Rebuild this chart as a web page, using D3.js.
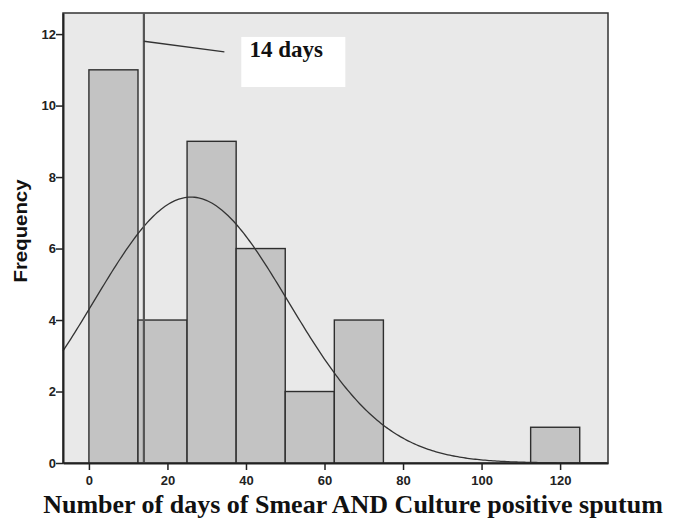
<!DOCTYPE html>
<html>
<head>
<meta charset="utf-8">
<script src="https://cdn.jsdelivr.net/npm/d3@7/dist/d3.min.js"></script>
<style>
  body { margin: 0; background: #fff; }
  svg { display: block; }
</style>
</head>
<body>
<div id="chart"></div>
<script>
// histogram bins (days) and counts
const binStarts = [0, 12.5, 25, 37.5, 50, 62.5, 112.5];
const binWidth = 12.5;
const counts = [11, 4, 9, 6, 2, 4, 1];
const xTicks = [0, 20, 40, 60, 80, 100, 120];
const yTicks = [0, 2, 4, 6, 8, 10, 12];
// fitted normal curve parameters
const curveMean = 26;
const curveSd = 24.8;
const cutoffDay = 14;

const width = 686, height = 522;
const margin = { top: 13, right: 78, bottom: 59, left: 63 };

const svg = d3.select('#chart').append('svg')
    .attr('width', width)
    .attr('height', height);

const x = d3.scaleLinear()
    .domain([-6.6, 132.2])
    .range([margin.left, width - margin.right]);
const y = d3.scaleLinear()
    .domain([0, 12.59])
    .range([height - margin.bottom, margin.top]);

// plot background
svg.append('rect')
    .attr('x', margin.left)
    .attr('y', margin.top)
    .attr('width', width - margin.left - margin.right)
    .attr('height', height - margin.top - margin.bottom)
    .attr('fill', '#e9e9e9')
    .attr('stroke', '#333')
    .attr('stroke-width', 1.5);

// bars
svg.selectAll('.bar')
    .data(binStarts.map((s, i) => ({ s, c: counts[i] })))
    .enter()
    .append('rect')
    .classed('bar', true)
    .attr('x', d => x(d.s))
    .attr('y', d => y(d.c))
    .attr('width', d => x(d.s + binWidth) - x(d.s))
    .attr('height', d => y(0) - y(d.c))
    .attr('fill', '#c3c3c3')
    .attr('stroke', '#2e2e2e')
    .attr('stroke-width', 1.4);

// normal curve
const total = d3.sum(counts);
const curvePts = d3.range(-6.6, 132.2, 0.5).map(v => {
    const z = (v - curveMean) / curveSd;
    return [v, total * binWidth * Math.exp(-0.5 * z * z) / (curveSd * Math.sqrt(2 * Math.PI))];
});
svg.append('path')
    .datum(curvePts)
    .attr('fill', 'none')
    .attr('stroke', '#333')
    .attr('stroke-width', 1.3)
    .attr('d', d3.line().x(d => x(d[0])).y(d => y(d[1])));

// 14 day reference line
svg.append('line')
    .attr('x1', x(cutoffDay)).attr('x2', x(cutoffDay))
    .attr('y1', y(12.59)).attr('y2', y(0))
    .attr('stroke', '#555')
    .attr('stroke-width', 2.2);

// annotation
svg.append('line')
    .attr('x1', x(cutoffDay)).attr('y1', y(11.8))
    .attr('x2', x(34.5)).attr('y2', y(11.5))
    .attr('stroke', '#333')
    .attr('stroke-width', 1.3);
svg.append('rect')
    .attr('x', x(38.8))
    .attr('y', y(11.92))
    .attr('width', x(65.3) - x(38.8))
    .attr('height', y(10.52) - y(11.92))
    .attr('fill', '#fff');
svg.append('text')
    .attr('x', x(40.9))
    .attr('y', y(11.35))
    .style('font-family', '"Liberation Serif", "Times New Roman", serif')
    .style('font-weight', 'bold')
    .style('font-size', '23px')
    .attr('fill', '#111')
    .text('14 days');

// axes
const xAxis = d3.axisBottom(x).tickValues(xTicks).tickSize(7).tickSizeOuter(0);
const gx = svg.append('g')
    .attr('transform', `translate(0,${y(0)})`)
    .call(xAxis);
gx.select('.domain').attr('stroke', '#222').attr('stroke-width', 2);
gx.selectAll('line').attr('stroke', '#222').attr('stroke-width', 1.5);
gx.selectAll('text')
    .attr('dy', '0.95em')
    .style('font-family', '"Liberation Sans Narrow", "Arial Narrow", sans-serif')
    .style('font-size', '13px')
    .style('font-weight', 'bold')
    .attr('fill', '#222');

const yAxis = d3.axisLeft(y).tickValues(yTicks).tickSize(7).tickSizeOuter(0);
const gy = svg.append('g')
    .attr('transform', `translate(${margin.left},0)`)
    .call(yAxis);
gy.select('.domain').attr('stroke', '#222').attr('stroke-width', 2);
gy.selectAll('line').attr('stroke', '#222').attr('stroke-width', 1.5);
gy.selectAll('text')
    .attr('x', -7)
    .style('font-family', '"Liberation Sans Narrow", "Arial Narrow", sans-serif')
    .style('font-size', '13px')
    .style('font-weight', 'bold')
    .attr('fill', '#222');

// axis titles
svg.append('text')
    .attr('transform', 'translate(27,231) rotate(-90)')
    .style('text-anchor', 'middle')
    .style('font-family', '"Liberation Sans", Arial, sans-serif')
    .style('font-size', '18px')
    .style('font-weight', 'bold')
    .attr('textLength', 103)
    .attr('lengthAdjust', 'spacingAndGlyphs')
    .attr('fill', '#111')
    .text('Frequency');

svg.append('text')
    .attr('x', 353)
    .attr('y', 513)
    .style('text-anchor', 'middle')
    .style('font-family', '"Liberation Serif", "Times New Roman", serif')
    .style('font-size', '26px')
    .style('font-weight', 'bold')
    .attr('fill', '#111')
    .text('Number of days of Smear AND Culture positive sputum');
</script>
</body>
</html>
